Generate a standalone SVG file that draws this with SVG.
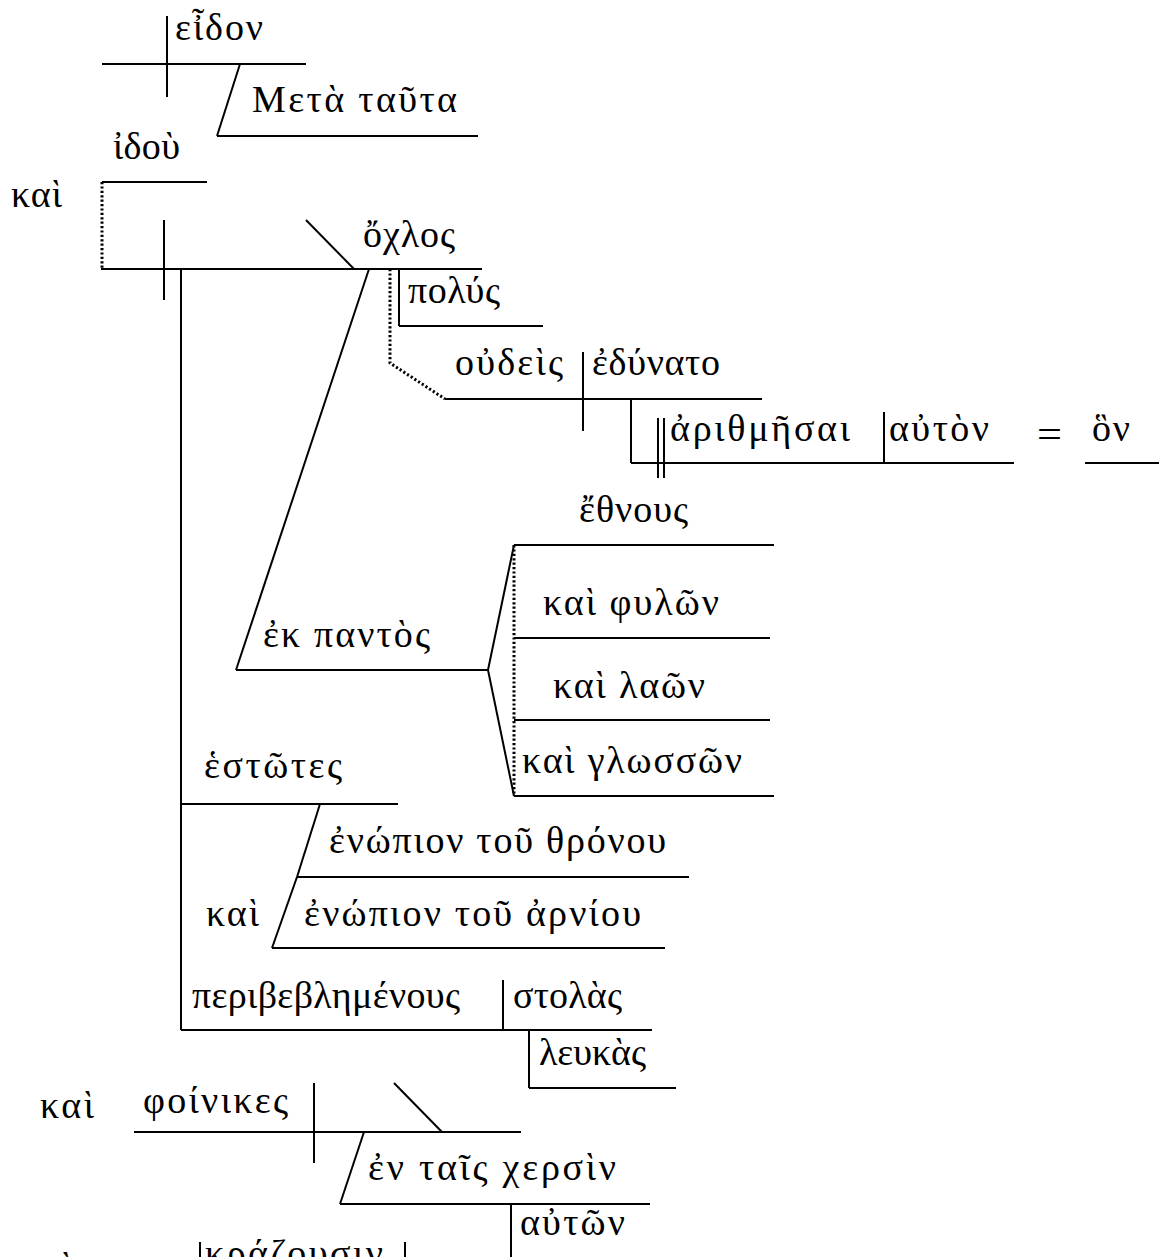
<svg xmlns="http://www.w3.org/2000/svg" width="1159" height="1257" viewBox="0 0 1159 1257">
<style>
text{font-family:"Liberation Serif","DejaVu Serif",serif;font-size:38px;fill:#000}
line,polyline{stroke:#000;stroke-width:2;fill:none}
.dot{stroke-width:3;stroke-dasharray:2.2 2.2}
</style>
<rect width="1159" height="1257" fill="#fff"/>
<g id="connectors">
<line x1="167" y1="16" x2="167" y2="97"/>
<line x1="240" y1="64" x2="217" y2="136"/>
<line class="dot" x1="102" y1="182" x2="102" y2="269"/>
<line x1="164" y1="220" x2="164" y2="300"/>
<line x1="306" y1="220" x2="354" y2="269"/>
<line x1="399" y1="269" x2="399" y2="326"/>
<polyline class="dot" points="390,269 390,363 445,399"/>
<line x1="583" y1="352" x2="583" y2="431"/>
<line x1="631" y1="399" x2="631" y2="463"/>
<line x1="658" y1="418" x2="658" y2="478"/>
<line x1="664" y1="418" x2="664" y2="478"/>
<line x1="884" y1="412" x2="884" y2="463"/>
<line x1="369" y1="269" x2="236" y2="670"/>
<line x1="488" y1="670" x2="514" y2="545"/>
<line x1="488" y1="670" x2="514" y2="796"/>
<line class="dot" x1="514" y1="545" x2="514" y2="796"/>
<line x1="181" y1="269" x2="181" y2="1030"/>
<line x1="320" y1="804" x2="297" y2="877"/>
<line x1="297" y1="877" x2="272" y2="948"/>
<line x1="503" y1="980" x2="503" y2="1030"/>
<line x1="529" y1="1030" x2="529" y2="1088"/>
<line x1="314" y1="1083" x2="314" y2="1163"/>
<line x1="394" y1="1083" x2="442" y2="1132"/>
<line x1="364" y1="1132" x2="340" y2="1204"/>
<line x1="511" y1="1204" x2="511" y2="1257"/>
<line x1="200" y1="1242" x2="200" y2="1257"/>
<line x1="405" y1="1242" x2="405" y2="1257"/>
</g>
<g id="n-eidon"><line x1="102" y1="64" x2="306" y2="64"/><text x="175" y="40" textLength="88" lengthAdjust="spacing">εἶδον</text></g>
<g id="n-meta"><line x1="217" y1="136" x2="478" y2="136"/><text x="252" y="112" textLength="205" lengthAdjust="spacing">Μετὰ ταῦτα</text></g>
<g id="n-idou"><line x1="102" y1="182" x2="207" y2="182"/><text x="113" y="159" textLength="67" lengthAdjust="spacing">ἰδοὺ</text></g>
<g id="n-kai1"><text x="11" y="207" textLength="51" lengthAdjust="spacing">καὶ</text></g>
<g id="n-ochlos"><line x1="101" y1="269" x2="482" y2="269"/><text x="363" y="247" textLength="92" lengthAdjust="spacing">ὄχλος</text></g>
<g id="n-polys"><line x1="399" y1="326" x2="543" y2="326"/><text x="408" y="303" textLength="92" lengthAdjust="spacing">πολύς</text></g>
<g id="n-oudeis"><line x1="445" y1="399" x2="762" y2="399"/><text x="455" y="375" textLength="108" lengthAdjust="spacing">οὐδεὶς</text><text x="592" y="375" textLength="128" lengthAdjust="spacing">ἐδύνατο</text></g>
<g id="n-arithmesai"><line x1="631" y1="463" x2="1014" y2="463"/><text x="670" y="441" textLength="180" lengthAdjust="spacing">ἀριθμῆσαι</text><text x="889" y="441" textLength="100" lengthAdjust="spacing">αὐτὸν</text></g>
<g id="n-eq"><text x="1037" y="447" textLength="25" lengthAdjust="spacingAndGlyphs">=</text></g>
<g id="n-hon"><line x1="1085" y1="463" x2="1159" y2="463"/><text x="1092" y="441" textLength="38" lengthAdjust="spacing">ὃν</text></g>
<g id="n-ekpantos"><line x1="236" y1="670" x2="488" y2="670"/><text x="263" y="647" textLength="167" lengthAdjust="spacing">ἐκ παντὸς</text></g>
<g id="n-ethnous"><line x1="514" y1="545" x2="774" y2="545"/><text x="579" y="522" textLength="109" lengthAdjust="spacing">ἔθνους</text></g>
<g id="n-phylon"><line x1="514" y1="638" x2="770" y2="638"/><text x="543" y="615" textLength="176" lengthAdjust="spacing">καὶ φυλῶν</text></g>
<g id="n-laon"><line x1="514" y1="720" x2="770" y2="720"/><text x="553" y="698" textLength="152" lengthAdjust="spacing">καὶ λαῶν</text></g>
<g id="n-glosson"><line x1="514" y1="796" x2="774" y2="796"/><text x="522" y="773" textLength="220" lengthAdjust="spacing">καὶ γλωσσῶν</text></g>
<g id="n-estotes"><line x1="181" y1="804" x2="398" y2="804"/><text x="204" y="778" textLength="138" lengthAdjust="spacing">ἑστῶτες</text></g>
<g id="n-thronou"><line x1="297" y1="877" x2="689" y2="877"/><text x="329" y="853" textLength="337" lengthAdjust="spacing">ἐνώπιον τοῦ θρόνου</text></g>
<g id="n-arniou"><line x1="272" y1="948" x2="665" y2="948"/><text x="206" y="926" textLength="53" lengthAdjust="spacing">καὶ</text><text x="304" y="926" textLength="337" lengthAdjust="spacing">ἐνώπιον τοῦ ἀρνίου</text></g>
<g id="n-peribeblemenous"><line x1="181" y1="1030" x2="652" y2="1030"/><text x="192" y="1008" textLength="268" lengthAdjust="spacing">περιβεβλημένους</text><text x="513" y="1008" textLength="109" lengthAdjust="spacing">στολὰς</text></g>
<g id="n-leukas"><line x1="529" y1="1088" x2="676" y2="1088"/><text x="539" y="1065" textLength="107" lengthAdjust="spacing">λευκὰς</text></g>
<g id="n-phoinikes"><line x1="134" y1="1132" x2="521" y2="1132"/><text x="40" y="1118" textLength="54" lengthAdjust="spacing">καὶ</text><text x="143" y="1113" textLength="145" lengthAdjust="spacing">φοίνικες</text></g>
<g id="n-chersin"><line x1="340" y1="1204" x2="650" y2="1204"/><text x="368" y="1180" textLength="248" lengthAdjust="spacing">ἐν ταῖς χερσὶν</text></g>
<g id="n-auton"><text x="520" y="1235" textLength="105" lengthAdjust="spacing">αὐτῶν</text></g>
<g id="n-krazousin"><text x="18" y="1279" textLength="54" lengthAdjust="spacing">καὶ</text><text x="205" y="1266" textLength="178" lengthAdjust="spacing">κράζουσιν</text></g>
</svg>
